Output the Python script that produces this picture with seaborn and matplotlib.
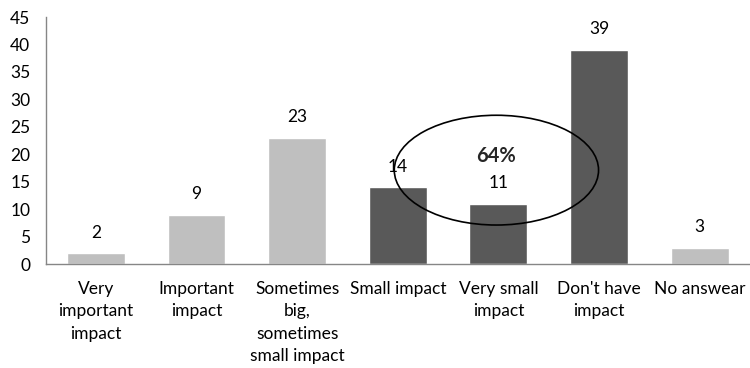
import matplotlib
matplotlib.use("Agg")
import matplotlib.pyplot as plt
import seaborn as sns
import pandas as pd
from matplotlib.patches import Ellipse

categories = ["Very\nimportant\nimpact", "Important\nimpact", "Sometimes\nbig,\nsometimes\nsmall impact",
              "Small impact", "Very small\nimpact", "Don't have\nimpact", "No answear"]
values = [2, 9, 23, 14, 11, 39, 3]
groups = ["light", "light", "light", "dark", "dark", "dark", "light"]
group_colors = {"light": "#BFBFBF", "dark": "#595959"}
highlight_label = "64%"

sns.set_theme(style="white")
plt.rcParams["font.family"] = ["Lato", "DejaVu Sans"]

df = pd.DataFrame({"cat": categories, "val": values, "grp": groups})

fig = plt.figure(figsize=(7.5, 3.68), dpi=100)
ax = fig.add_axes([0.0608, 0.2826, 0.9392, 0.6712])
sns.barplot(data=df, x="cat", y="val", hue="cat",
            palette=[group_colors[g] for g in groups], legend=False,
            width=0.575, ax=ax, saturation=1)

ax.set_xlim(-0.5, 6.5)
ax.set_ylim(0, 45)
ax.set_yticks(range(0, 46, 5))
ax.set_xlabel("")
ax.set_ylabel("")
for s in ["top", "right"]:
    ax.spines[s].set_visible(False)
for s in ["left", "bottom"]:
    ax.spines[s].set_color("#868686")
    ax.spines[s].set_linewidth(1)
fs = 12.5
ax.tick_params(axis="both", length=0, labelsize=fs, colors="black")
ax.tick_params(axis="y", pad=11)
ax.tick_params(axis="x", pad=12)
for lbl in ax.get_xticklabels():
    lbl.set_linespacing(1.5)
    lbl.set_va("top")

for i, v in enumerate(values):
    ax.annotate(str(v), (i, v), xytext=(0, 9), textcoords="offset points",
                ha="center", va="bottom", fontsize=fs, color="black")

ax.add_patch(Ellipse((3.98, 17.1), 2.03, 20.0, fill=False,
                     edgecolor="black", lw=1.2, zorder=5))
ax.text(3.98, 19.6, highlight_label, ha="center", va="center", fontsize=14.5, fontweight="bold")

fig.savefig("out.png", dpi=100)
